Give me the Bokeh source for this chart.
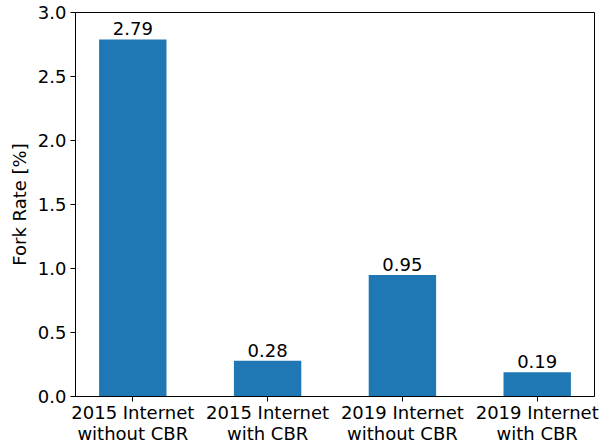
from bokeh.plotting import figure
from bokeh.models import FixedTicker, Range1d, ColumnDataSource
from bokeh.embed import file_html
from bokeh.resources import INLINE
from bokeh.core.properties import value

categories = ["2015 Internet\nwithout CBR", "2015 Internet\nwith CBR",
              "2019 Internet\nwithout CBR", "2019 Internet\nwith CBR"]
fork_rates = [2.79, 0.28, 0.95, 0.19]
y_ticks = [0.0, 0.5, 1.0, 1.5, 2.0, 2.5, 3.0]

xs = list(range(len(categories)))
labels = [f"{v:.2f}" for v in fork_rates]
src = ColumnDataSource(dict(x=xs, top=fork_rates, label=labels))

FONT = "DejaVu Sans"
FS = "18px"

p = figure(width=600, height=446, output_backend="svg", toolbar_location=None,
           x_range=Range1d(-0.425, 3.425), y_range=Range1d(0, 3.0),
           min_border_left=75, min_border_right=6, min_border_top=12, min_border_bottom=44)

p.vbar(x="x", top="top", width=0.5, bottom=0, source=src, color="#1f77b4", line_color=None)
p.text(x="x", y="top", text="label", source=src, text_align="center", text_baseline="bottom",
       y_offset=-4, text_font=value(FONT), text_font_size=FS, text_color="black")

p.xgrid.visible = False
p.ygrid.visible = False
p.outline_line_color = "black"
p.outline_line_width = 1
p.outline_line_alpha = 1

p.xaxis.ticker = FixedTicker(ticks=xs)
p.xaxis.major_label_overrides = {i: c for i, c in enumerate(categories)}
p.xaxis.major_label_text_line_height = 1.0
p.yaxis.ticker = FixedTicker(ticks=y_ticks)
p.yaxis.major_label_overrides = {t: f"{t:.1f}" for t in y_ticks}
p.yaxis.axis_label = "Fork Rate [%]"

for ax in (p.xaxis, p.yaxis):
    ax.major_label_text_font = FONT
    ax.major_label_text_font_size = FS
    ax.major_label_text_color = "black"
    ax.axis_label_text_font = FONT
    ax.axis_label_text_font_size = FS
    ax.axis_label_text_font_style = "normal"
    ax.axis_label_text_color = "black"
    ax.major_tick_out = 5
    ax.major_tick_in = 0
    ax.minor_tick_line_color = None
    ax.major_tick_line_color = "black"
    ax.axis_line_color = "black"
    ax.major_label_standoff = 4

p.xaxis.major_label_standoff = 0
p.yaxis.axis_label_standoff = 5

open("out.html", "w").write(file_html(p, INLINE))
